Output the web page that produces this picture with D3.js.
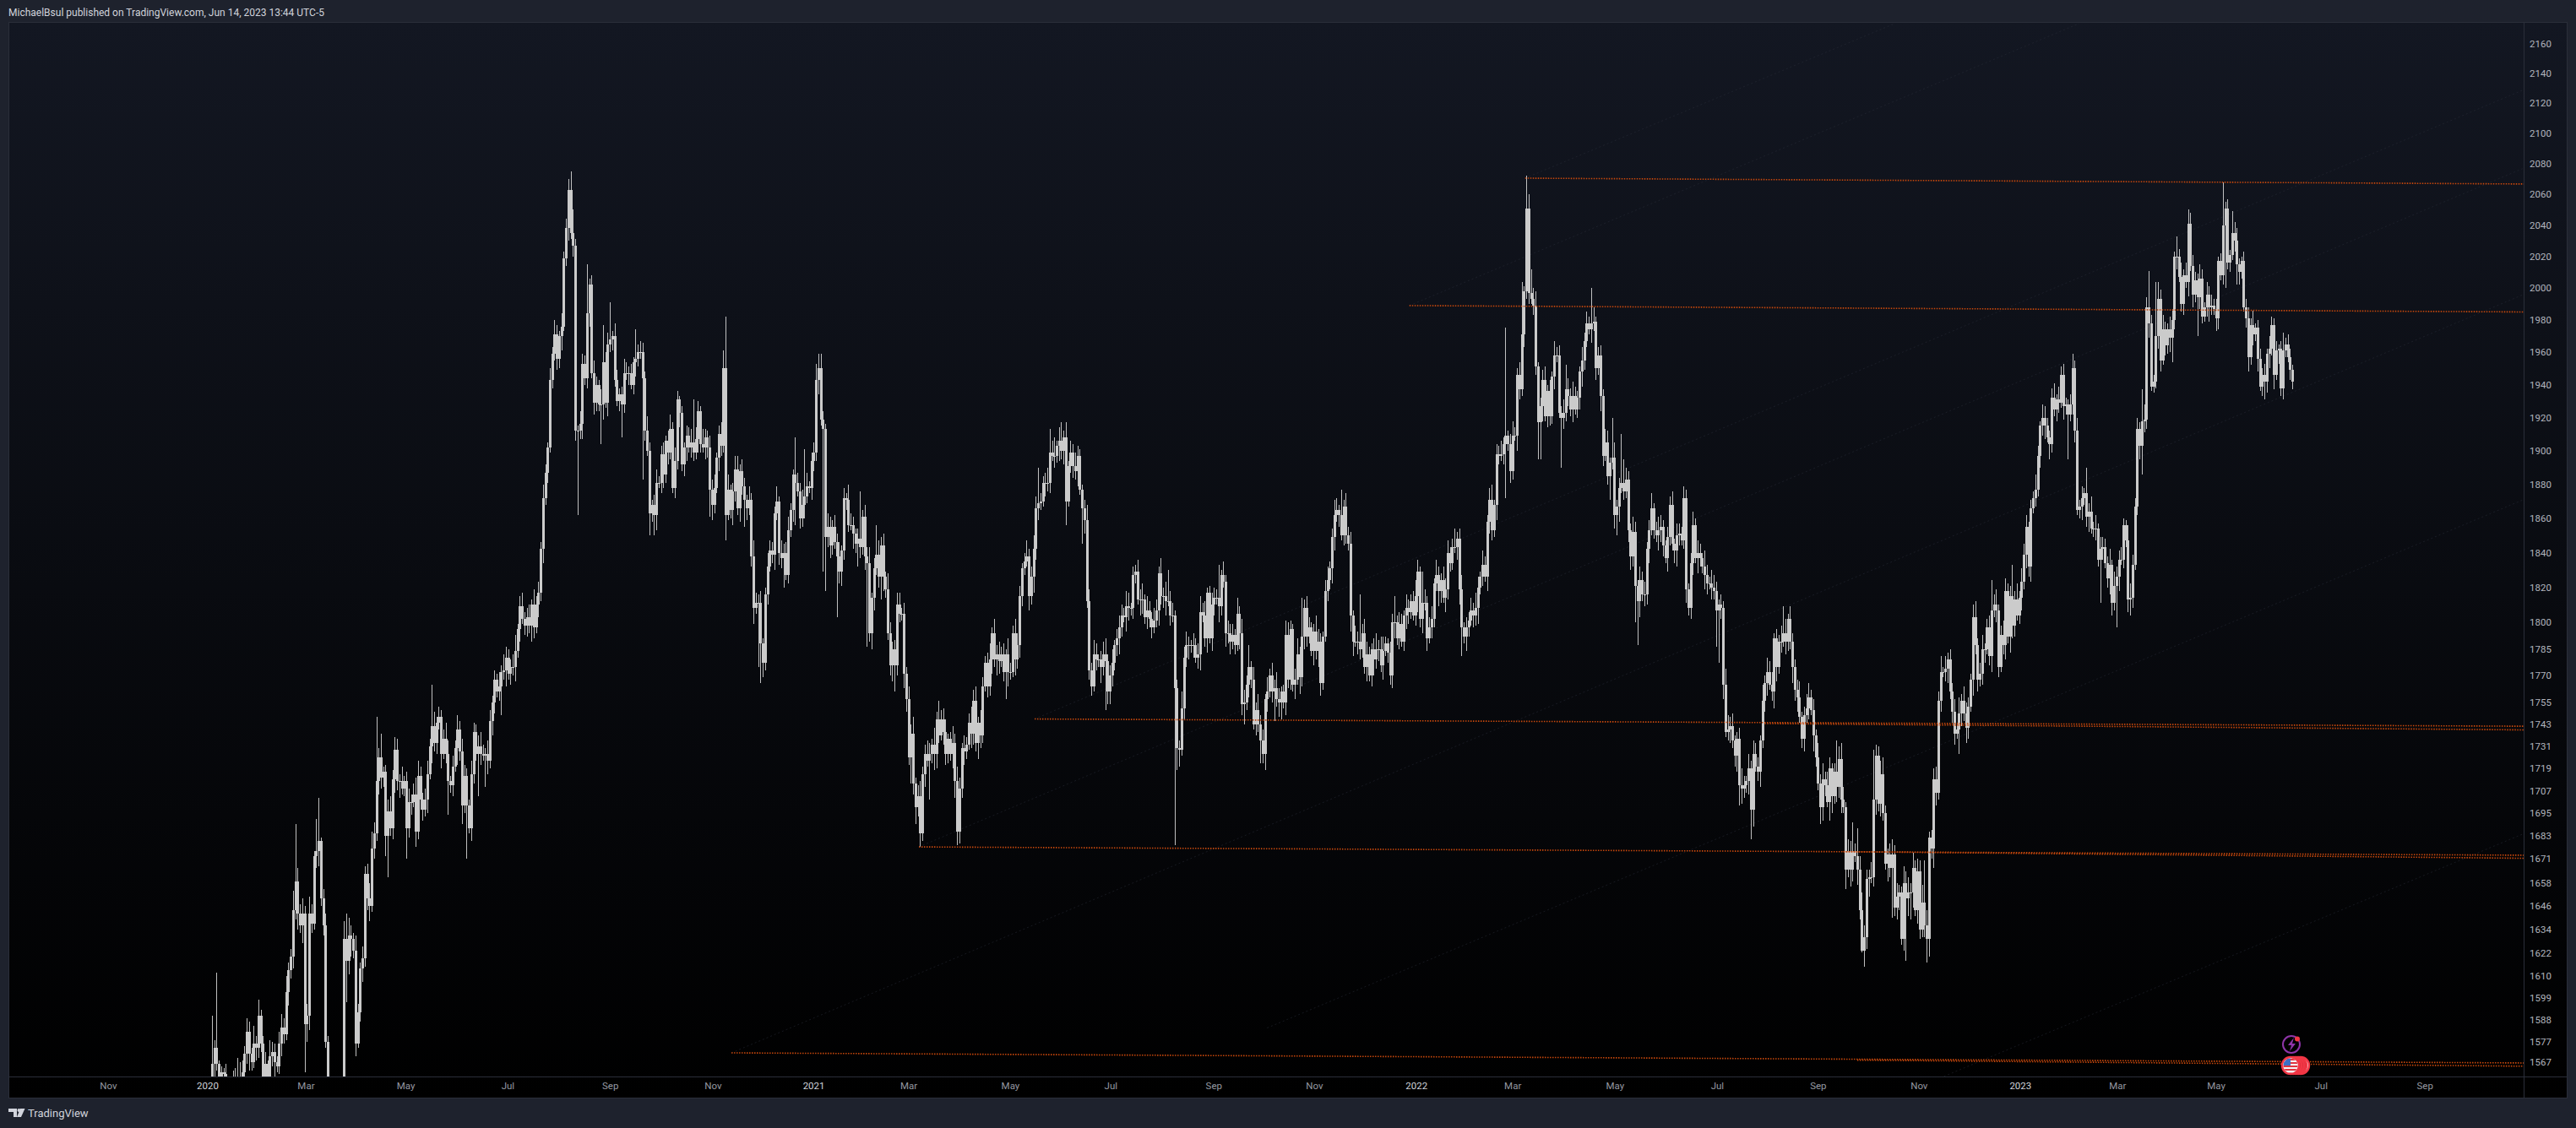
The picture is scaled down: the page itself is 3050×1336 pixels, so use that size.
<!DOCTYPE html>
<html><head><meta charset="utf-8">
<script src="https://cdn.jsdelivr.net/npm/d3@7/dist/d3.min.js"></script>
<style>html,body{margin:0;padding:0;background:#1e222d;overflow:hidden}svg{display:block}text{font-family:Roboto,"Open Sans",sans-serif}</style>
</head><body><svg id="c" width="3050" height="1336"></svg>
<script>
const titleText="MichaelBsul published on TradingView.com, Jun 14, 2023 13:44 UTC-5";
const brandText="TradingView";
const priceTicks=[2160,2140,2120,2100,2080,2060,2040,2020,2000,1980,1960,1940,1920,1900,1880,1860,1840,1820,1800,1785,1770,1755,1743,1731,1719,1707,1695,1683,1671,1658,1646,1634,1622,1610,1599,1588,1577,1567];
const timeLabels=["Nov","2020","Mar","May","Jul","Sep","Nov","2021","Mar","May","Jul","Sep","Nov","2022","Mar","May","Jul","Sep","Nov","2023","Mar","May","Jul","Sep"];
const timeBars=[-44.9,-2,40.5,83.6,127.7,172,216.4,259.9,301,344.9,388.3,432.8,476.3,520.4,562,606.2,650.4,694,737.6,781.4,823.4,866,911.3,956.2];
const closes=[
1566,1574,1566,1559,1562,1561,1556,1551,1552,1557,1560,1560,1556,1562,1571,1582,1571,1567,1576,1574,
1590,1576,1551,1566,1559,1570,1572,1567,1565,1576,1584,1581,1602,1613,1620,1644,1659,1642,1636,1642,
1586,1590,1642,1637,1672,1675,1680,1650,1636,1577,1551,1544,1536,1539,1534,1539,1548,1629,1618,1631,
1629,1623,1576,1592,1614,1619,1663,1650,1646,1676,1684,1712,1725,1714,1717,1683,1696,1687,1713,1729,
1712,1712,1708,1712,1687,1701,1701,1705,1685,1715,1702,1697,1702,1716,1731,1742,1733,1744,1747,1727,
1735,1727,1712,1710,1720,1730,1740,1728,1699,1715,1699,1687,1716,1739,1727,1731,1727,1726,1727,1723,
1745,1755,1768,1761,1764,1772,1773,1780,1771,1775,1775,1784,1796,
1809,1802,1798,1803,1798,1810,1797,1810,1817,1842,1872,1887,1902,1943,1959,1971,1956,1970,1976,
2019,2038,2063,2035,2027,1912,1912,1916,1953,1944,1984,2002,1947,1929,1940,1928,1928,1954,1929,1965,1968,1970,1943,1930,1934,1928,1947,1947,1947,1940,1954,1956,1960,1960,1944,1912,1900,1863,1868,1862,1881,1881,1898,1886,1906,1899,1913,1878,1894,1931,1923,1892,1902,1909,1902,1905,1899,1907,1924,1904,1902,1908,1902,1877,1868,1878,1896,1910,1903,1950,1862,1877,1865,1876,1889,1866,1888,1879,1871,1866,1871,1838,1808,1811,1811,1788,1777,1816,1832,1841,1839,1863,1870,1840,1837,1840,1827,1853,1865,1886,1881,1876,1860,1868,1873,1879,1878,1894,1899,1943,1950,1919,1913,1849,1855,1844,1855,1846,1838,1829,1841,1872,1871,1856,1856,1851,1845,1848,1843,1861,1838,1834,1794,1814,1831,1839,1826,1844,1826,1819,1794,1776,1785,1776,1810,1805,1805,1771,1757,
1725,1738,1711,1698,1704,1684,1716,1727,1723,1727,1732,1727,1746,1737,1746,1739,1727,1735,1727,1733,1712,1685,1708,1730,1728,1732,1744,1738,1756,1733,1744,1737,1764,1777,1764,1779,1794,1779,1782,1778,1782,1772,1782,1772,1772,1794,1779,1787,1815,1831,1835,1838,1815,1826,1842,1866,1869,1870,1881,1881,1881,1899,1897,1897,1903,1906,1900,1908,1870,1891,1899,1891,1888,1897,1877,1866,1859,1812,1773,1764,1782,1779,1779,1775,1782,1778,1761,1770,1777,1787,1791,1797,1804,1803,1809,1808,1808,1827,1829,1813,1813,1813,1803,1807,1802,1797,1801,1807,1828,1815,1815,1812,1812,1804,1804,1763,1730,1729,1752,1780,1787,1787,1787,1787,1780,1782,1806,1804,1791,1817,1791,1810,1814,1814,1809,1827,1823,1794,1794,1789,1793,1787,1805,1794,1754,1755,1765,1775,1768,1743,1751,1743,1734,1727,1757,1761,1770,1761,1763,1757,1755,1761,1755,1793,1768,1796,1765,1768,1782,1769,1792,1808,1792,1797,
1784,1795,1784,1789,1766,1792,1818,1824,1831,1849,1862,1865,1862,1850,1867,1850,1845,1804,1789,1789,1789,1785,1794,1775,1782,1770,1785,1779,1785,1785,1776,1784,1788,1783,1770,1800,1800,1791,1799,1789,1804,1808,1806,1812,1804,1815,1829,1802,1811,1811,1791,1797,1802,1822,1827,1818,1824,1814,1819,1840,1834,1843,1843,1848,1819,1797,1792,1797,1801,1807,1804,1808,1820,1826,1833,1826,1858,1871,1853,1868,1898,1897,1898,1904,1909,1904,1888,1909,1909,1946,1937,1971,1998,2051,1997,1993,1989,1951,1917,1927,1943,1921,1936,1921,1945,1958,1958,1923,1920,1923,1937,1933,1925,1933,1925,1932,1948,1955,1967,1978,1974,1978,1979,1950,1958,1933,1897,1905,1885,1893,1896,1862,1867,1878,1881,1876,1883,1853,1838,1852,1821,1812,1824,1816,1816,1842,1853,1866,1853,1850,1853,1855,1844,1837,1849,1868,1845,1841,1850,1851,1847,1872,1819,1808,1834,1856,1837,1840,1837,1832,1827,1822,1822,1820,1818,1807,1810,1808,
1765,1739,1740,1742,1734,1726,1735,1710,1708,1710,1712,1719,1697,1727,1720,1717,1734,1756,1766,1772,1765,1761,1791,1775,1789,1789,1794,1789,1802,1789,1775,1762,1758,1747,1735,1748,1752,1758,1751,1737,1725,1711,1698,1713,1710,1701,1719,1704,1717,1709,1724,1702,1698,1665,1675,1665,1675,1672,1665,1644,1623,1630,1660,1661,1661,1702,1726,1700,1716,1695,1668,1673,1666,1673,1645,1651,1653,1629,1658,1650,1653,1653,1666,1644,1664,1634,1648,1636,1629,1682,1676,1713,1706,1756,1772,1772,1774,1779,1761,1750,1738,1740,1749,1756,1749,1741,1753,1768,1803,1787,1768,1771,1785,1785,1797,1781,1807,1810,1807,1775,1793,1787,1818,1792,1815,1798,1813,1804,1814,1823,1839,1855,1832,1866,1872,1877,1897,
1915,1920,1915,1908,1904,1932,1925,1931,1929,1946,1927,1928,1922,1928,1950,1912,1865,1867,1872,1875,1861,1864,1854,1854,1854,1836,1842,1843,1834,1825,1833,1811,1821,1826,1836,1836,1856,1847,1813,1814,1833,1867,1913,1903,1918,1919,1988,1978,1939,1942,1970,1993,1955,1974,1964,1974,1969,1980,2020,2020,2007,1990,2008,2004,2041,2014,1996,2005,1994,2006,1982,1988,1996,1988,1989,1987,1981,2017,2008,2040,2051,2016,2021,2035,2030,2015,2010,2017,1988,1981,1957,1977,1971,1975,1956,1939,1946,1942,1959,1962,1977,1946,1961,1962,1938,1961,1965,1957,1949,1942];
const wickUp=[
5,4,6,2,3,2,5,4,3,6,4,9,7,6,4,7,5,3,9,4,8,3,4,6,2,8,5,4,3,6,
7,5,8,4,4,10,3,7,5,8,4,6,9,5,3,7,4,2,5,6,3,4,7,5,2,6,4,9,13,9,
5,3,8,4,3,6,4,5,8,9,6,8,5,7,3,4,6,8,5,7,6,4,8,3,5,7,4,6,9,8,
5,4,6,7,4,3,8,3,6,4,5,9,7,3,6,4,8,5,7,6,4,3,7,5,4,6,8,5,3,7,
6,4,5,3,8,4,9,6,5,4,7,9,3,6,8,4,5,7,3,9,5,6,4,8,5,3,7,4,9,6,
3,8,4,6,7,5,9,4,3,8,6,5,4,7,6,8,5,3,9,4,6,7,5,3,8,6,4,5,9,7,
4,6,3,8,5,7,6,4,9,5,3,6,8,4,5,7,3,6,9,4,8,5,7,4,3,6,5,8,4,7,
6,3,9,5,4,7,6,8,3,5,7,4,6,9,3,5,8,6,4,7,5,3,8,4,9,6,5,7,3,4,
8,6,5,4,9,3,7,5,6,8,4,3,7,6,5,9,4,8,3,5,6,7,4,9,5,3,8,6,4,7,
5,8,3,6,4,9,7,5,3,6,8,4,7,5,9,3,6,4,8,5,7,3,9,6,4,5,8,7,3,6,
4,7,5,9,3,6,8,4,5,7,6,3,9,4,8,5,6,7,3,4,9,5,8,6,3,7,4,5,9,6,
8,3,7,5,4,6,9,3,8,5,7,4,6,3,9,5,4,8,7,6,3,5,9,4,6,8,7,3,5,4,
6,9,4,7,5,3,8,6,4,9,3,7,5,8,6,4,3,5,9,7,4,8,6,3,5,7,9,4,6,8,
3,5,7,6,4,9,8,3,5,4,7,6,9,3,8,5,4,7,6,3,9,5,8,4,6,7,3,5,4,9,
6,8,5,3,7,4,6,9,5,8,3,4,7,6,5,9,3,8,4,7,5,6,3,9,4,8,7,5,6,3,
7,4,9,5,6,3,8,4,7,5,9,6,3,4,8,7,5,3,6,9,4,8,5,7,6,3,4,9,7,5,
3,6,8,4,5,9,7,3,6,4,8,5,7,3,9,6,4,5,8,7,4,3,6,9,5,7,8,4,3,6,
5,9,4,7,6,3,8,5,4,6,9,7,3,5,8,4,6,7,3,9,5,4,8,6,7,3,5,9,4,6,
8,3,6,5,7,4,9,6,3,8,5,4,7,9,3,6,5,8,4,7,3,6,9,5,4,8,7,3,6,5,
4,7,9,3,5,6,8,4,7,3,9,5,6,4,8,3,7,5,9,6,4,3,8,5,7,4,6,9,3,5,
6,4,8,7,3,5,9,4,6,8,3,7,5,4,9,6,3,8,5,7,4,6,9,3,5,8,7,4,3,6,
5,8,3,7,6,4,9,5,3,6,8,4,7,5,3,9,6,4,8,7,5,3,6,4,9,8,5,7,3,4,
6,9,5,3,8,4,7,6,5,3,9,4,8,6,7,3,5,4,9,6,8,3,7,5,4,6,9,3,5,8,
7,4,6,3,8,5,9,4,7,6,3,5,8,4,9,7,3,6,5,8,4,3,7,9,6,5,4,8,3,6,
5,7,9,4,3,6,8,5,7,4,3,9,6,8,5,3,4,7,6,9,5,8,3,4,6,7,5,9,3,8,
4,6,5,7,3,9,4,8,6,5,3,7,9,4,6,8,3,5,7,4,6,9,3,5,8,7,4,6,3,5,
9,4,8,6,7,3,5,4,9,6,3,8,7,5,4,6,9,3,8,5,7,4,3,6,9,5,8,4,7,3,
6,5,9,4,8,3,7,6,5,4,9,3,8,6,5,7,4,3,9,8,6,5,7,4,3,9,6,8,5,4,
7,3,6,9,5,4,8,7,3,6,5,9,4,8,3,6,7,5,4,9,6,3,8,5,7,4,6,3,5,8,
4,6,3,7,5,8,4,3,6,5,7,4,9,3,5,6,4,7,3,8,5,4,6,3,5,7,4,6,5,3];
const wickDown=[
4,6,3,5,2,3,4,6,2,5,3,4,6,7,3,5,8,4,3,6,5,4,7,3,6,4,5,8,3,4,
6,5,3,7,4,6,5,8,4,9,6,4,7,5,3,6,8,4,5,3,7,4,6,5,8,3,4,6,5,7,
9,4,6,3,5,7,4,6,8,3,5,4,7,6,5,3,8,4,6,7,5,9,3,4,6,5,7,3,8,4,
5,6,4,7,3,9,5,6,4,8,3,5,7,4,6,3,9,5,8,4,6,3,7,5,4,8,6,3,5,7,
4,8,6,3,5,7,4,9,3,6,5,8,4,7,3,5,6,4,9,6,3,7,5,8,4,6,3,5,4,7,
6,9,3,5,8,4,7,6,3,5,9,4,6,8,3,7,5,4,6,9,3,8,5,7,4,3,6,8,5,4,
7,3,6,9,5,4,8,6,3,7,5,4,9,3,6,8,5,7,4,3,6,5,9,4,7,8,3,6,5,4,
8,5,3,7,6,4,9,5,3,8,6,4,7,3,5,9,6,4,8,5,3,7,4,6,9,3,5,7,8,4,
6,3,5,9,4,7,6,8,3,5,4,7,9,3,6,5,8,4,3,7,6,5,9,4,8,3,6,7,5,4,
3,7,8,5,6,4,3,9,5,7,6,4,8,3,5,9,7,4,6,3,8,5,4,7,9,3,6,5,4,8,
7,4,3,6,9,5,8,4,7,3,6,5,9,8,4,3,7,6,5,4,8,9,3,6,5,7,4,3,8,6,
5,9,7,4,3,6,5,8,4,9,7,3,5,6,8,4,3,9,5,7,6,4,3,8,5,9,6,7,4,3,
8,5,6,3,7,4,9,5,8,6,3,4,7,5,9,3,6,8,4,5,7,3,6,4,9,5,8,7,3,6,
4,6,9,5,3,8,7,4,6,5,3,9,8,4,7,5,6,3,4,9,5,7,8,3,6,4,5,7,9,3,
6,5,8,4,7,3,6,9,4,5,8,3,7,6,4,9,5,3,8,6,7,4,5,3,9,6,8,4,7,5,
3,6,4,8,5,9,7,3,6,5,4,8,9,3,7,5,6,4,8,3,9,5,7,6,4,3,8,5,9,7,
4,3,6,5,9,8,4,7,3,6,5,4,9,8,3,7,6,5,4,8,3,6,9,5,7,4,8,3,6,5,
7,9,4,6,3,5,8,7,4,3,6,9,5,8,4,7,3,6,5,4,9,7,3,8,6,5,4,3,7,9,
6,4,8,5,3,7,6,9,4,5,3,8,7,6,4,9,5,3,6,8,4,7,5,3,9,6,4,8,5,7,
3,6,5,8,4,9,3,7,6,5,8,4,3,9,7,5,6,4,8,3,5,7,9,6,4,3,8,5,7,4,
9,6,3,5,7,4,8,6,9,3,5,4,7,8,6,3,5,9,4,7,6,8,3,5,4,9,7,6,3,8,
5,4,7,9,6,3,5,8,4,6,7,3,9,5,4,8,6,3,7,5,9,4,6,8,3,5,7,4,6,9,
3,8,5,4,7,6,9,3,5,8,4,6,7,3,5,9,8,4,6,3,7,5,4,9,6,8,3,5,7,4,
6,3,9,5,4,8,7,6,3,5,9,4,8,6,7,3,5,4,9,6,3,8,5,7,4,6,9,3,5,8,
4,7,6,3,9,5,8,4,6,7,3,5,4,9,6,8,3,7,5,4,6,3,9,5,8,7,4,6,3,5,
8,4,6,9,3,5,7,4,8,6,3,9,5,7,4,6,8,3,5,9,4,7,6,3,5,8,4,9,7,6,
3,5,7,4,8,6,9,3,5,4,7,6,8,3,9,5,4,7,6,3,8,5,9,4,6,7,3,5,8,4,
6,9,3,5,7,4,8,6,3,5,9,7,4,6,8,3,5,4,7,9,6,3,5,8,4,7,6,9,3,5,
4,8,7,3,6,5,9,4,6,8,3,5,7,4,9,3,6,5,8,7,4,3,6,9,5,4,8,7,3,6,
9,4,6,3,7,5,8,4,3,6,9,5,7,4,8,3,6,5,7,9,4,6,3,8,5,7,4,3,6,5];
const highBars=[0,2,36,45,46,71,73,95,155,154,156,162,163,172,169,183,202,208,221,222,227,252,256,262,261,274,280,287,296,
362,367,364,357,399,409,413,435,471,448,314,559,568,569,570,566,580,585,596,605,609,610,488,636,496,511,523,537,679,690,702,703,709,711,718,735,740,769,778,749,804,810,834,837,840,841,849,854,855,869,873,874,890,895,897];
const highValues=[1590,1612,1689,1692,1703,1747,1738,1765,2075,2070,2050,2015,2006,1991,1977,1974,1933,1931,1961,1982,1897,1908,1901,1959,1953,1875,1876,1856,1817,
1913,1917,1908,1890,1833,1832,1830,1833,1814,1787,1756,1975,2072,2060,2012,2004,1967,1952,2000,1920,1910,1895,1877,1879,1816,1815,1829,1854,1809,1766,1734,1731,1690,1687,1729,1674,1670,1824,1833,1781,1959,1890,1937,2011,2004,2004,2033,2050,2048,2068,2049,2042,1982,1972,1971];
const lowBars=[40,41,58,63,75,76,84,102,108,110,115,118,125,
158,168,177,186,189,191,215,222,230,236,237,247,252,264,265,270,279,283,289,293,295,
302,306,310,322,343,369,376,380,386,388,416,417,446,453,459,
540,559,573,574,583,604,607,615,616,650,651,660,665,695,699,706,713,714,722,726,731,732,734,741,744,753,755,802,816,823,834,839,842,847,856,858,870,875,887,891];
const lowValues=[1562,1577,1597,1574,1672,1661,1671,1694,1689,1671,1704,1709,1748,
1862,1904,1908,1883,1850,1850,1861,1847,1855,1775,1766,1820,1856,1829,1818,1803,1832,1786,1813,1770,1761,
1711,1677,1702,1678,1757,1856,1845,1759,1751,1754,1678,1718,1743,1722,1745,
1781,1872,1895,1895,1890,1871,1850,1800,1787,1786,1777,1699,1681,1689,1691,1655,1622,1615,1691,1640,1623,1618,1639,1617,1666,1732,1727,1895,1811,1797,1886,1935,1948,1954,1988,1970,2000,2002,1931,1937];
const levelStartBars=[567.5,517.5,355.5,671,305.5,705,224.5,711];
const levelStartPrices=[2070.5,1989,1746,1743.5,1677,1674.5,1571.6,1568];
const levelEndBar=999;
const levelEndPrices=[2066.7,1985,1742,1740,1672.6,1671,1566.6,1565];
const slantStartBars=[567.5,517.5,355.5,305.5,224.5,456,748.5];
const slantStartPrices=[2070.5,1989,1746,1677,1571.6,1584,1560];
const slantEndBars=[727.4,807,999,999,999,999,999];
const slantEndPrices=[2174,2174,2129,2077,1996,1871,1684];

const svg=d3.select("#c");
const x=d3.scaleLinear().domain([0,899]).range([251,2714]);
const y=d3.scaleLog().domain([1567,2160]).range([1258,52]);
const defs=svg.append("defs");
const g=defs.append("linearGradient").attr("id","pane").attr("x1",0).attr("y1",0).attr("x2",0).attr("y2",1);
g.append("stop").attr("offset","0").attr("stop-color","#131722");
g.append("stop").attr("offset","1").attr("stop-color","#000000");
defs.append("clipPath").attr("id","plot").append("rect").attr("x",11).attr("y",28).attr("width",2977).attr("height",1247);
defs.append("clipPath").attr("id","flag").append("circle").attr("cx",2712).attr("cy",1262).attr("r",8.5);

svg.append("rect").attr("width",3050).attr("height",1336).attr("fill","#1e222d");
svg.append("rect").attr("x",10.5).attr("y",26.5).attr("width",3029).attr("height",1274).attr("fill","url(#pane)").attr("stroke","#2a2e39");
svg.append("line").attr("x1",2988.5).attr("x2",2988.5).attr("y1",27).attr("y2",1301).attr("stroke","#2a2e39");
svg.append("line").attr("x1",11).attr("x2",3039).attr("y1",1275.5).attr("y2",1275.5).attr("stroke","#2a2e39");

const plot=svg.append("g").attr("clip-path","url(#plot)");
plot.selectAll("line.slant").data(slantStartBars).join("line").attr("class","slant")
 .attr("x1",d=>x(d)).attr("y1",(d,i)=>y(slantStartPrices[i]))
 .attr("x2",(d,i)=>x(slantEndBars[i])).attr("y2",(d,i)=>y(slantEndPrices[i]))
 .attr("stroke","#2a2e39").attr("stroke-opacity",.5).attr("stroke-width",1).attr("stroke-dasharray","2 3");

const bars=closes.map((c,i)=>{
 const o=i?closes[i-1]:1558;
 let hi=Math.max(o,c)+wickUp[i], lo=Math.min(o,c)-wickDown[i];
 return {i,o,c,hi,lo};
});
highBars.forEach((b,k)=>{bars[b].hi=highValues[k]});
lowBars.forEach((b,k)=>{bars[b].lo=lowValues[k]});

plot.selectAll("rect.w").data(bars).join("rect").attr("class","w")
 .attr("x",d=>Math.round(x(d.i))).attr("width",1)
 .attr("y",d=>y(d.hi)).attr("height",d=>Math.max(1,y(d.lo)-y(d.hi)))
 .attr("fill","#d4d4d4").attr("fill-opacity",.9).attr("shape-rendering","crispEdges");
plot.selectAll("rect.b").data(bars).join("rect").attr("class","b")
 .attr("x",d=>Math.round(x(d.i))-1).attr("width",3)
 .attr("y",d=>y(Math.max(d.o,d.c))).attr("height",d=>Math.max(1,Math.abs(y(d.o)-y(d.c))))
 .attr("fill","#cbcbcb").attr("shape-rendering","crispEdges");

plot.selectAll("line.level").data(levelStartBars).join("line").attr("class","level")
 .attr("x1",d=>x(d)).attr("y1",(d,i)=>y(levelStartPrices[i]))
 .attr("x2",x(levelEndBar)).attr("y2",(d,i)=>y(levelEndPrices[i]))
 .attr("stroke","#c8480c").attr("stroke-width",1.6).attr("stroke-dasharray","1.5 1.5");

const ax=d3.axisRight(y).tickValues(priceTicks).tickFormat(d3.format("d")).tickSize(0).tickPadding(0);
const ay=svg.append("g").attr("transform","translate(2995,0)").call(ax);
ay.select(".domain").remove();
ay.selectAll("text").attr("font-size",11.5).attr("fill","#b2b5be").attr("font-family","Roboto").attr("text-anchor","start").attr("x",0);

const bx=d3.axisBottom(x).tickValues(timeBars).tickFormat((d,i)=>timeLabels[i]).tickSize(0).tickPadding(0);
const by=svg.append("g").attr("transform","translate(0,1282)").call(bx);
by.select(".domain").remove();
by.selectAll("text").attr("font-size",11.5).attr("font-family","Roboto").attr("fill",(d,i)=>/^20/.test(timeLabels[i])?"#d1d4dc":"#9598a1");

svg.append("text").attr("x",10).attr("y",19).attr("font-size",12).attr("fill","#d1d4dc").text(titleText);
svg.append("text").attr("x",33).attr("y",1323).attr("font-size",13).attr("fill","#d1d4dc").text(brandText);
svg.append("path").attr("fill","#d1d4dc").attr("d","M10 1313h10v10h-4v-6h-6z");
svg.append("circle").attr("cx",22.5).attr("cy",1315).attr("r",2).attr("fill","#d1d4dc");
svg.append("path").attr("fill","#d1d4dc").attr("d","M24 1313h5.5l-4.5 10h-5z");

// event markers
const ev=svg.append("g");
ev.append("circle").attr("cx",2713).attr("cy",1237).attr("r",10).attr("fill","#000").attr("stroke","#8e35a8").attr("stroke-width",2);
ev.append("path").attr("d","M2716 1229l-7 9h4l-2 7 7-9h-4z").attr("fill","#8e35a8");
ev.append("circle").attr("cx",2720).attr("cy",1230.5).attr("r",3).attr("fill","#f23645");
[12,9,6,3,0].forEach((dx,k)=>{
 ev.append("circle").attr("cx",2712+dx).attr("cy",1262).attr("r",10)
   .attr("fill",k===0||k===4?"#f4f4f6":"#d92f3c").attr("stroke","#f23645").attr("stroke-width",2.4);
});
const fl=ev.append("g").attr("clip-path","url(#flag)");
[1254,1258,1262,1266,1270].forEach(s=>fl.append("rect").attr("x",2702).attr("y",s).attr("width",20).attr("height",2).attr("fill","#e0353f"));
fl.append("rect").attr("x",2702).attr("y",1253).attr("width",10).attr("height",9).attr("fill","#3c6fc4");
</script></body></html>
